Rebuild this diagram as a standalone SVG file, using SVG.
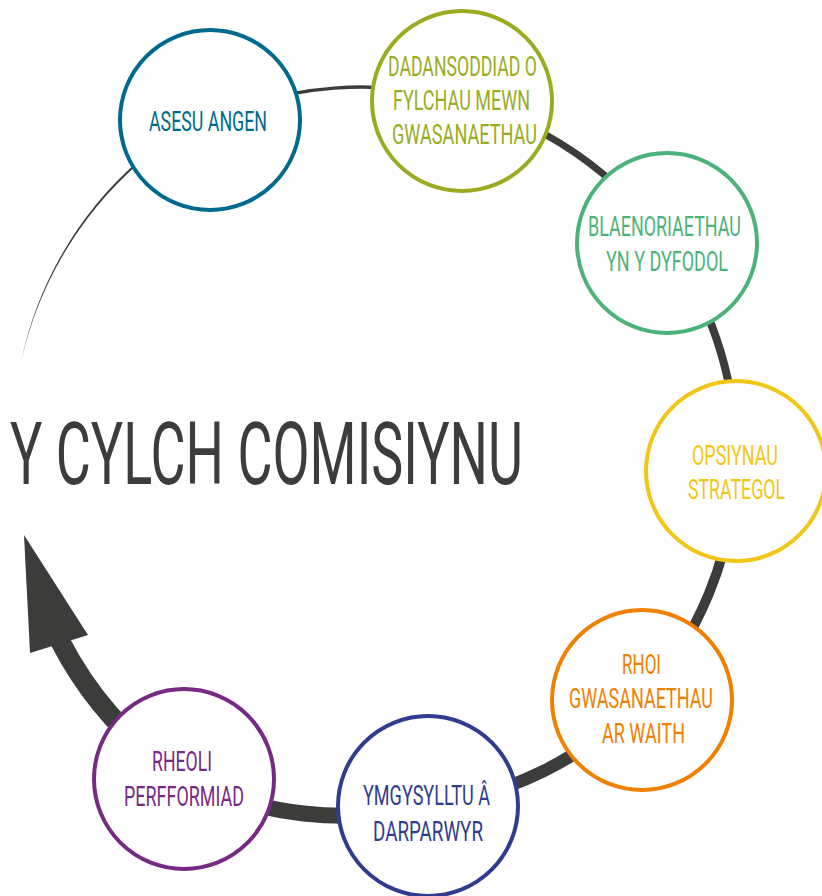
<svg xmlns="http://www.w3.org/2000/svg" width="822" height="896" viewBox="0 0 822 896">
<style>
.node{fill:#fff;stroke-width:4}
.lbl{font-family:Roboto,"Liberation Sans",sans-serif;font-size:27px;text-anchor:middle}
.seg{fill:none;stroke:#3c3c3b;stroke-linecap:butt}
.title{font-family:Roboto,"Liberation Sans",sans-serif;font-size:88px;fill:#3c3c3b;text-anchor:middle}
</style>
<rect width="822" height="896" fill="#fff"/>
<g id="connectors">
<path d="M21 362 A367 367 0 0 1 137 162 L138 164 A372 372 0 0 0 21 362 Z" fill="#3c3c3b"/>
<path class="seg" d="M210 120 A367 367 0 0 1 462 101" stroke-width="3.5"/>
<path class="seg" d="M462 101 A367 367 0 0 1 667 243" stroke-width="7"/>
<path class="seg" d="M667 243 A367 367 0 0 1 736 471" stroke-width="8"/>
<path class="seg" d="M736 471 A367 367 0 0 1 642 700" stroke-width="10"/>
<path class="seg" d="M642 700 A367 367 0 0 1 428 806" stroke-width="12.5"/>
<path class="seg" d="M428 806 A367 367 0 0 1 184 779" stroke-width="16"/>
<path class="seg" d="M184 779 A367 367 0 0 1 60 641" stroke-width="20"/>
<polygon points="24,535 88,635 30,653" fill="#3c3c3b"/>
</g>
<g id="node-asesu">
<circle class="node" cx="210" cy="120" r="90" stroke="#006a8e"/>
<text class="lbl" fill="#006a8e" x="208" y="131" textLength="118" lengthAdjust="spacingAndGlyphs">ASESU ANGEN</text>
</g>
<g id="node-dadansoddiad">
<circle class="node" cx="462" cy="101" r="90" stroke="#9bab1f"/>
<text class="lbl" fill="#9bab1f" x="462.5" y="76" textLength="149" lengthAdjust="spacingAndGlyphs">DADANSODDIAD O</text>
<text class="lbl" fill="#9bab1f" x="461.5" y="110" textLength="137" lengthAdjust="spacingAndGlyphs">FYLCHAU MEWN</text>
<text class="lbl" fill="#9bab1f" x="464.5" y="144" textLength="145" lengthAdjust="spacingAndGlyphs">GWASANAETHAU</text>
</g>
<g id="node-blaenoriaethau">
<circle class="node" cx="667" cy="243" r="90" stroke="#4bb37a"/>
<text class="lbl" fill="#4bb37a" x="664.5" y="236" textLength="153" lengthAdjust="spacingAndGlyphs">BLAENORIAETHAU</text>
<text class="lbl" fill="#4bb37a" x="667" y="271" textLength="122" lengthAdjust="spacingAndGlyphs">YN Y DYFODOL</text>
</g>
<g id="node-opsiynau">
<circle class="node" cx="736" cy="471" r="90" stroke="#f2c616"/>
<text class="lbl" fill="#f2c616" x="735" y="465" textLength="86" lengthAdjust="spacingAndGlyphs">OPSIYNAU</text>
<text class="lbl" fill="#f2c616" x="736.5" y="499" textLength="97" lengthAdjust="spacingAndGlyphs">STRATEGOL</text>
</g>
<g id="node-rhoi">
<circle class="node" cx="642" cy="700" r="90" stroke="#ef8000"/>
<text class="lbl" fill="#ef8000" x="641.5" y="674" textLength="39" lengthAdjust="spacingAndGlyphs">RHOI</text>
<text class="lbl" fill="#ef8000" x="641" y="708" textLength="144" lengthAdjust="spacingAndGlyphs">GWASANAETHAU</text>
<text class="lbl" fill="#ef8000" x="643.5" y="743" textLength="83" lengthAdjust="spacingAndGlyphs">AR WAITH</text>
</g>
<g id="node-ymgysylltu">
<circle class="node" cx="428" cy="806" r="90" stroke="#2f3c8f"/>
<text class="lbl" fill="#2f3c8f" x="426.5" y="805" textLength="127" lengthAdjust="spacingAndGlyphs">YMGYSYLLTU Â</text>
<text class="lbl" fill="#2f3c8f" x="428" y="841" textLength="110" lengthAdjust="spacingAndGlyphs">DARPARWYR</text>
</g>
<g id="node-rheoli">
<circle class="node" cx="184" cy="779" r="90" stroke="#772a84"/>
<text class="lbl" fill="#772a84" x="182" y="771" textLength="60" lengthAdjust="spacingAndGlyphs">RHEOLI</text>
<text class="lbl" fill="#772a84" x="184" y="806" textLength="120" lengthAdjust="spacingAndGlyphs">PERFFORMIAD</text>
</g>
<g id="title">
<text class="title" x="266.5" y="484" textLength="513" lengthAdjust="spacingAndGlyphs">Y CYLCH COMISIYNU</text>
</g>
</svg>
